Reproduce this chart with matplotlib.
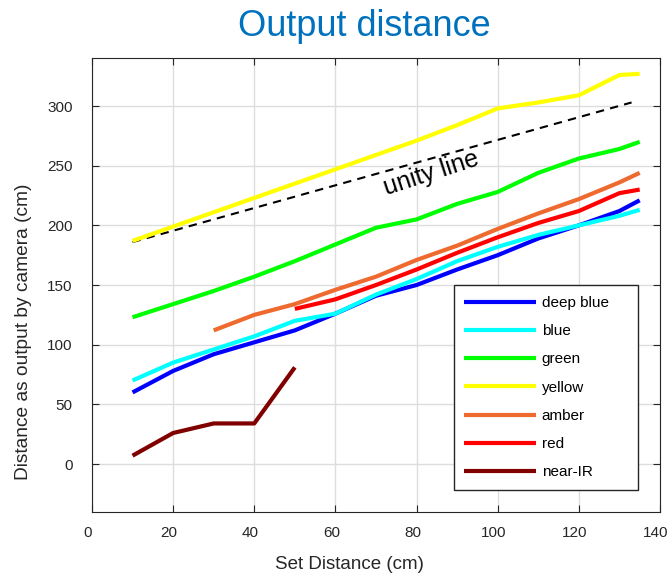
import matplotlib
matplotlib.use("Agg")
import matplotlib.pyplot as plt
import matplotlib.transforms as mtrans

plt.rcParams['font.family'] = ['Liberation Sans', 'DejaVu Sans']

x_full = [10, 20, 30, 40, 50, 60, 70, 80, 90, 100, 110, 120, 130, 135]
deep_blue = [60, 78, 92, 102, 112, 126, 141, 150, 163, 175, 189, 200, 212, 221]
blue = [70, 85, 96, 107, 120, 126, 142, 155, 170, 182, 192, 200, 208, 213]
green = [123, 134, 145, 157, 170, 184, 198, 205, 218, 228, 244, 256, 264, 270]
yellow = [187, 199, 211, 223, 235, 247, 259, 271, 284, 298, 303, 309, 326, 327]
x_amber = [30, 40, 50, 60, 70, 80, 90, 100, 110, 120, 130, 135]
amber = [112, 125, 134, 146, 157, 171, 183, 197, 210, 222, 236, 244]
x_red = [50, 60, 70, 80, 90, 100, 110, 120, 130, 135]
red = [130, 138, 150, 163, 177, 190, 202, 212, 227, 230]
x_nir = [10, 20, 30, 40, 50]
near_ir = [7, 26, 34, 34, 81]
unity_x = [10, 133]
unity_y = [186, 303]

series = [
    ("deep blue", x_full, deep_blue, "#0000FF"),
    ("blue", x_full, blue, "#00FFFF"),
    ("green", x_full, green, "#00FF00"),
    ("yellow", x_full, yellow, "#FFFF00"),
    ("amber", x_amber, amber, "#EE6A2F"),
    ("red", x_red, red, "#FF0000"),
    ("near-IR", x_nir, near_ir, "#800000"),
]

fig = plt.figure(figsize=(6.69, 5.75), dpi=100)
ax = fig.add_axes([0.1375, 0.110, 0.849, 0.7886])

ax.plot(unity_x, unity_y, color="black", lw=1.5, ls=(0, (4, 3)))
for name, xs, ys, c in series:
    ax.plot(xs, ys, color=c, lw=3, label=name, solid_capstyle="butt")

ax.text(83.6, 244, "unity line", fontsize=18, rotation=18, ha="center", va="center")

ax.set_xlim(0, 140)
ax.set_ylim(-40, 340)
ax.set_xticks(range(0, 141, 20))
ax.set_yticks(range(0, 301, 50))
ax.grid(True, color="#DDDDDD", lw=1)
ax.set_axisbelow(True)
ax.tick_params(direction="in", top=True, right=True, labelsize=11, colors="#262626", length=5)
ax.tick_params(axis="y", pad=14)
ax.tick_params(axis="x", pad=10)
for s in ax.spines.values():
    s.set_color("#262626")

shift = mtrans.ScaledTranslation(-4 / 100, 0, fig.dpi_scale_trans)
for lab in ax.get_xticklabels():
    lab.set_transform(lab.get_transform() + shift)

ax.set_xlabel("Set Distance (cm)", fontsize=13.5, color="#262626")
ax.xaxis.set_label_coords(0.454, -0.097)
ax.set_ylabel("Distance as output by camera (cm)", fontsize=13.8, color="#262626")
ax.yaxis.set_label_coords(-0.106, 0.396)
ax.set_title("Output distance", fontsize=26, color="#0072BD", pad=16, x=0.479)

leg = ax.legend(loc="lower left", bbox_to_anchor=(0.637, 0.048, 0.324, 0.45), mode="expand",
                fontsize=11, handlelength=4.7, labelspacing=0.93, borderpad=0.7,
                borderaxespad=0, fancybox=False, framealpha=1, edgecolor="#262626",
                handletextpad=0.35)
leg.get_frame().set_linewidth(1)

fig.savefig("out.png", dpi=100)
